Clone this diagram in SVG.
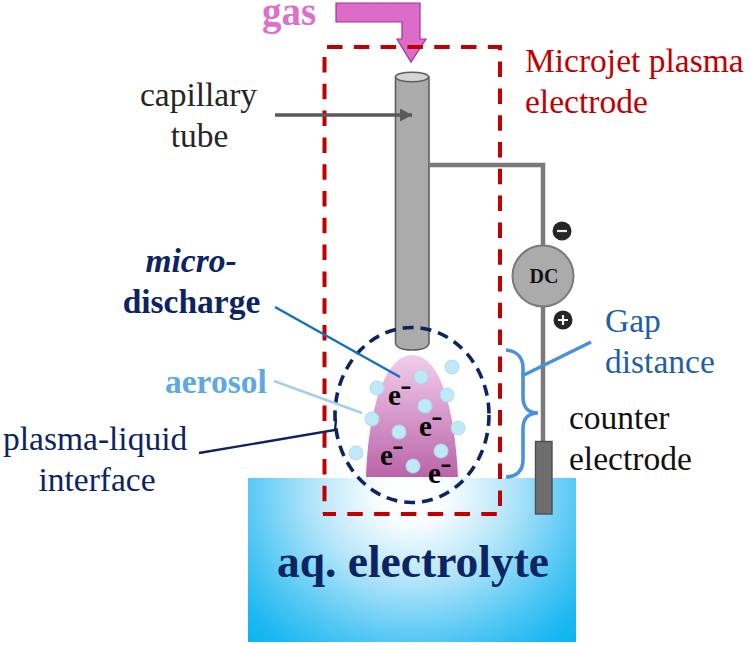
<svg xmlns="http://www.w3.org/2000/svg" width="750" height="646" viewBox="0 0 750 646">
<style>
  text { font-family: "Liberation Serif", "Times New Roman", serif; }
  .lbl { font-size: 33.500px; }
  .navy { fill: #0c2461; }
  .red { fill: #c00000; }
  .gap { fill: #1f5fa6; }
  .ink { fill: #262626; }
  .elec { font-size: 29px; font-weight: bold; fill: #000; }
  .drop { fill: #c0e8f7; stroke: #a6def4; stroke-width: 1; }
  .wire { fill: none; stroke: #7a7a7a; stroke-width: 4.5; }
  .frame { fill: none; stroke: #c00000; stroke-width: 4; stroke-dasharray: 15.500 11.300; }
</style>
<defs>
  <radialGradient id="water" gradientUnits="userSpaceOnUse" cx="0" cy="0" r="1" gradientTransform="translate(412 492) scale(262 236)">
    <stop offset="0" stop-color="#ffffff"/>
    <stop offset="0.13" stop-color="#fafdff"/>
    <stop offset="0.37" stop-color="#b6e6fa"/>
    <stop offset="0.63" stop-color="#55c8f4"/>
    <stop offset="0.8" stop-color="#1cb8f1"/>
    <stop offset="1" stop-color="#00aeef"/>
  </radialGradient>
  <linearGradient id="plume" x1="0" y1="0" x2="0" y2="1">
    <stop offset="0" stop-color="#f2cdec"/>
    <stop offset="1" stop-color="#ba64a8"/>
  </linearGradient>
  <marker id="head" markerUnits="userSpaceOnUse" markerWidth="14" markerHeight="14" refX="12" refY="6.5" orient="auto">
    <path d="M0,0 L12,6.5 L0,13 Z" fill="#595959"/>
  </marker>
</defs>

<g id="electrolyte">
  <rect x="248" y="478" width="328" height="164" fill="url(#water)"/>
  <text x="413" y="577" text-anchor="middle" font-size="45.500" font-weight="bold" class="navy">aq. electrolyte</text>
</g>

<g id="plasma-plume">
  <path d="M366,477 C368,410 385,355 412,355 C442,355 455,415 458,477 Z" fill="url(#plume)"/>
</g>

<g id="capillary">
  <path d="M395.500,77 V342 Q395.500,350 412,350 Q429,350 429,342 V77 Z" fill="#ababab" stroke="#5f5f5f" stroke-width="1.600"/>
  <ellipse cx="412" cy="77" rx="16.500" ry="4.800" fill="#d4d4d4" stroke="#5f5f5f" stroke-width="1.600"/>
</g>

<g id="gas-inlet">
  <path d="M336,3 H420 V39 H426 L411,62 L397,39 H402 V22 H336 Z" fill="#dc6cc8" stroke="#a0329a" stroke-width="1.200"/>
  <text x="262" y="25" font-size="39" font-weight="bold" fill="#dc70cc">gas</text>
</g>

<g id="microjet-electrode">
  <path class="frame" d="M327,47 H500 V514 H323"/>
  <path class="frame" d="M324.500,57 V514"/>
  <text class="lbl red" x="525" y="72">Microjet plasma</text>
  <text class="lbl red" x="525" y="113">electrode</text>
</g>

<g id="droplets">
  <circle class="drop" cx="452" cy="367" r="7"/>
  <circle class="drop" cx="421" cy="377" r="7"/>
  <circle class="drop" cx="377" cy="388" r="7"/>
  <circle class="drop" cx="447" cy="395" r="7"/>
  <circle class="drop" cx="425" cy="406" r="7"/>
  <circle class="drop" cx="372" cy="419" r="7"/>
  <circle class="drop" cx="458" cy="428" r="7"/>
  <circle class="drop" cx="399" cy="432" r="7"/>
  <circle class="drop" cx="441" cy="451" r="7"/>
  <circle class="drop" cx="356" cy="453" r="7"/>
  <circle class="drop" cx="413" cy="466" r="7"/>
</g>

<g id="electrons">
  <text class="elec" x="388" y="405">e⁻</text>
  <text class="elec" x="419" y="436">e⁻</text>
  <text class="elec" x="380" y="465">e⁻</text>
  <text class="elec" x="428" y="483">e⁻</text>
</g>

<g id="interface-boundary">
  <ellipse cx="412" cy="415" rx="77" ry="87.500" fill="none" stroke="#0c2461" stroke-width="3.600" stroke-dasharray="11 7"/>
</g>

<g id="connectors">
  <path d="M275,115 H412" fill="none" stroke="#595959" stroke-width="3.500" marker-end="url(#head)"/>
  <path class="wire" d="M429,165 H543 V245"/>
  <path class="wire" d="M543,307 V441"/>
  <path d="M275,307 L400,377" fill="none" stroke="#1470c0" stroke-width="2.400"/>
  <path d="M274,381 L362,413" fill="none" stroke="#a4cdf0" stroke-width="2.400"/>
  <path d="M199,453 L335,430 L336,420" fill="none" stroke="#0c2461" stroke-width="2.400"/>
  <path d="M506,350 C516,351 523,357 523,368 V397 C523,407 528,413 538,413 C528,413 523,419 523,429 V460 C523,471 516,477 506,477" fill="none" stroke="#4a90dc" stroke-width="3.600"/>
  <path d="M524,375 L591,342" fill="none" stroke="#4a90dc" stroke-width="3.600"/>
</g>

<g id="dc-source">
  <circle cx="543" cy="276" r="30.500" fill="#ababab" stroke="#7a7a7a" stroke-width="2"/>
  <text x="544" y="283" text-anchor="middle" font-size="20" font-weight="bold" fill="#111">DC</text>
</g>

<g id="minus-terminal">
  <circle cx="562" cy="231" r="9.500" fill="#262626"/>
  <path d="M557,231 H567" stroke="#e8e8e8" stroke-width="2.200"/>
</g>

<g id="plus-terminal">
  <circle cx="563" cy="320" r="9.500" fill="#262626"/>
  <path d="M558,320 H568 M563,315 V325" stroke="#f4f4f4" stroke-width="2.200"/>
</g>

<g id="counter-electrode">
  <rect x="535.500" y="441.500" width="16.500" height="72.500" fill="#6e6e6e" stroke="#4f4f4f" stroke-width="1.400"/>
  <text class="lbl" x="569" y="429" fill="#111">counter</text>
  <text class="lbl" x="569" y="470" fill="#111">electrode</text>
</g>

<g id="labels">
  <text class="lbl ink" x="198.500" y="106" text-anchor="middle">capillary</text>
  <text class="lbl ink" x="199.500" y="147" text-anchor="middle">tube</text>
  <text class="lbl navy" x="191" y="272" text-anchor="middle" font-weight="bold" font-style="italic">micro-</text>
  <text class="lbl navy" x="191.500" y="313" text-anchor="middle" font-weight="bold">discharge</text>
  <text class="lbl" x="165" y="393" font-weight="bold" fill="#5ea8e4">aerosol</text>
  <text class="lbl navy" x="3" y="450">plasma-liquid</text>
  <text class="lbl navy" x="97" y="491" text-anchor="middle">interface</text>
  <text class="lbl gap" x="605" y="332">Gap</text>
  <text class="lbl gap" x="605" y="373">distance</text>
</g>
</svg>
